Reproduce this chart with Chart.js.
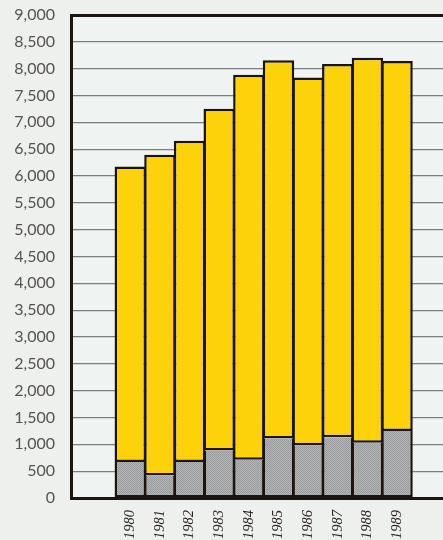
<!DOCTYPE html>
<html>
<head>
<meta charset="utf-8">
<script src="https://cdn.jsdelivr.net/npm/chart.js@4/dist/chart.umd.min.js"></script>
<style>
    html, body { margin: 0; padding: 0; background: #edf0ed; }
    #wrap { width: 443px; height: 540px; }
</style>
</head>
<body>
<div id="wrap"><canvas id="chart"></canvas></div>
<script>
const years = ['1980', '1981', '1982', '1983', '1984', '1985', '1986', '1987', '1988', '1989'];
// lower (grey) part of each bar
const lowerValues = [670, 420, 670, 885, 715, 1110, 985, 1130, 1030, 1250];
// upper (yellow) part stacked on top
const upperValues = [5505, 5975, 5985, 6370, 7170, 7045, 6850, 6955, 7175, 6895];
const yTicks = [0, 500, 1000, 1500, 2000, 2500, 3000, 3500, 4000, 4500, 5000, 5500, 6000, 6500, 7000, 7500, 8000, 8500, 9000];

const ink = '#1b1410';

// stippled grey fill
function greyPattern() {
    const c = document.createElement('canvas');
    c.width = 2; c.height = 2;
    const g = c.getContext('2d');
    g.fillStyle = '#b3b4b5';
    g.fillRect(0, 0, 2, 2);
    g.fillStyle = '#9a9b9d';
    g.fillRect(0, 0, 1, 1);
    g.fillRect(1, 1, 1, 1);
    return g.createPattern(c, 'repeat');
}

const background = {
    id: 'background',
    beforeDraw(chart) {
        const { ctx, width, height, chartArea: a } = chart;
        ctx.save();
        ctx.fillStyle = '#edf0ed';
        ctx.fillRect(0, 0, width, height);
        ctx.fillStyle = '#eff3f2';
        ctx.fillRect(a.left, a.top, a.right - a.left, a.bottom - a.top);
        ctx.restore();
    }
};

new Chart(document.getElementById('chart'), {
    type: 'bar',
    data: {
        datasets: [
            {
                data: lowerValues.map((v, i) => ({ x: i, y: v })),
                backgroundColor: greyPattern(),
                borderColor: ink,
                borderWidth: 2.5,
                borderSkipped: 'top'
            },
            {
                data: upperValues.map((v, i) => ({ x: i, y: v })),
                backgroundColor: '#fdd20b',
                borderColor: ink,
                borderWidth: 2.5,
                borderSkipped: false
            }
        ]
    },
    options: {
        responsive: true,
        maintainAspectRatio: false,
        animation: false,
        barPercentage: 1.06,
        categoryPercentage: 1,
        layout: { padding: { top: 15, right: 0, left: 0, bottom: 0 } },
        plugins: {
            legend: { display: false },
            tooltip: { enabled: false }
        },
        scales: {
            x: {
                type: 'linear',
                stacked: true,
                offset: false,
                min: -2,
                max: 10.55,
                afterBuildTicks: (scale) => {
                    scale.ticks = years.map((_, i) => ({ value: i }));
                },
                afterFit: (scale) => { scale.height = 42; },
                grid: { display: true, color: 'rgba(0,0,0,0)', drawTicks: false },
                border: { display: true, color: ink, width: 3 },
                ticks: {
                    autoSkip: false,
                    minRotation: 90,
                    maxRotation: 90,
                    padding: 12,
                    color: '#2a2522',
                    font: { family: 'Liberation Serif', style: 'italic', size: 14.5 },
                    callback: (v) => years[v]
                }
            },
            y: {
                stacked: true,
                min: 0,
                max: 9000,
                afterBuildTicks: (scale) => {
                    scale.ticks = yTicks.map(v => ({ value: v }));
                },
                afterFit: (scale) => {
                    scale.width = 71;
                    scale.paddingTop = 0;
                    scale.paddingBottom = 0;
                },
                grid: {
                    drawTicks: false,
                    color: (c) => (c.tick && c.tick.value === 9000) ? ink : '#7b7d7c',
                    lineWidth: (c) => (c.tick && c.tick.value === 9000) ? 3 : 1.3
                },
                border: { display: true, color: ink, width: 3 },
                ticks: {
                    padding: 16,
                    color: '#555352',
                    font: { family: 'Lato', size: 16 },
                    callback: (v) => v.toLocaleString('en-US')
                }
            }
        }
    },
    plugins: [background]
});
</script>
</body>
</html>
